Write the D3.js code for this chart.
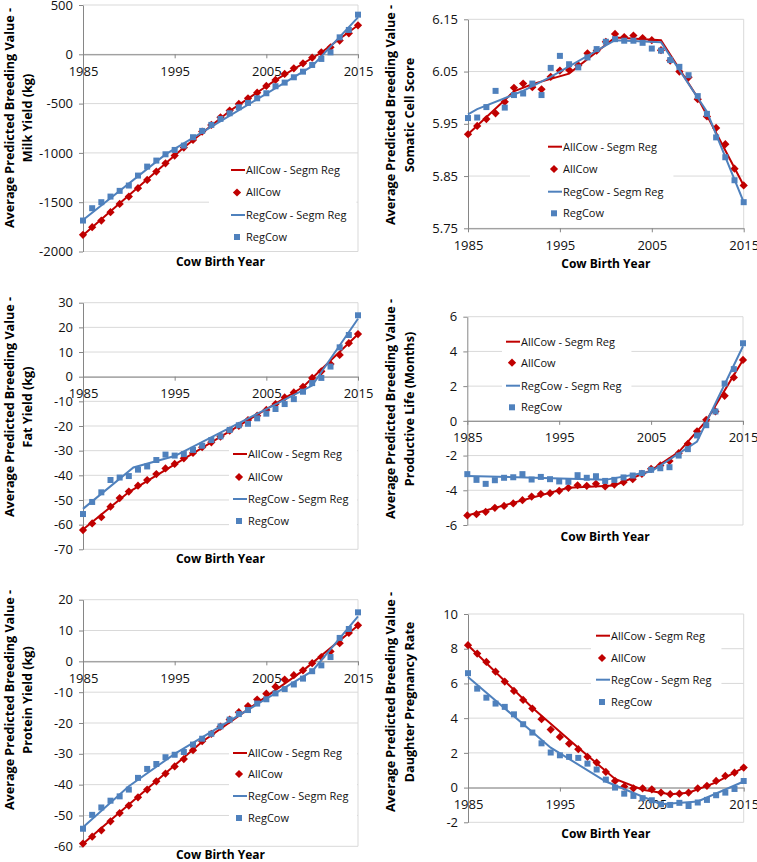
<!DOCTYPE html>
<html>
<head>
<meta charset="utf-8">
<script src="https://cdn.jsdelivr.net/npm/d3@7"></script>
<style>
  body { margin: 0; background: #fff; }
  svg { display: block; font-family: "Open Sans", sans-serif; }
</style>
</head>
<body>
<div id="vis"></div>
<script>
const FRAME_WIDTH = 757;
const FRAME_HEIGHT = 862;

// cow birth years on the x axis
const YEARS = [1985, 1986, 1987, 1988, 1989, 1990, 1991, 1992, 1993, 1994, 1995,
               1996, 1997, 1998, 1999, 2000, 2001, 2002, 2003, 2004, 2005, 2006,
               2007, 2008, 2009, 2010, 2011, 2012, 2013, 2014, 2015];
const X_TICKS = [1985, 1995, 2005, 2015];
const LEGEND_LABELS = ["AllCow - Segm Reg", "AllCow", "RegCow - Segm Reg", "RegCow"];

// Milk yield (kg)
const MILK_TICKS = [-2000, -1500, -1000, -500, 0, 500];
const MILK_ALL = [-1831, -1753, -1686, -1601, -1517, -1443, -1358, -1274, -1189, -1105, -1027,
                  -946, -868, -784, -716, -639, -571, -503, -446, -389, -321, -260,
                  -199, -142, -91, -34, 20, 71, 139, 213, 294];
const MILK_REG = [-1686, -1561, -1500, -1443, -1385, -1331, -1230, -1139, -1078, -1014, -970,
                  -926, -841, -777, -716, -655, -598, -537, -493, -446, -395, -324,
                  -287, -233, -176, -108, -47, 20, 172, 247, 402];
const MILK_ALL_SEG = [[1985, -1835], [1996, -946], [2001, -575], [2006, -262], [2011, 18], [2015, 295]];
const MILK_REG_SEG = [[1985, -1680], [1994, -1015], [2010, -120], [2015, 375]];

// Somatic cell score
const SCS_TICKS = [5.75, 5.85, 5.95, 6.05, 6.15];
const SCS_ALL = [5.930, 5.946, 5.959, 5.970, 5.992, 6.019, 6.027, 6.020, 6.016, 6.040, 6.052,
                 6.053, 6.062, 6.085, 6.090, 6.107, 6.122, 6.116, 6.119, 6.114, 6.110, 6.091,
                 6.071, 6.050, 6.039, 5.997, 5.964, 5.942, 5.911, 5.864, 5.832];
const SCS_REG = [5.961, 5.962, 5.982, 6.013, 5.981, 6.005, 6.008, 6.027, 6.005, 6.057, 6.080,
                 6.064, 6.058, 6.077, 6.093, 6.107, 6.112, 6.109, 6.109, 6.105, 6.094, 6.090,
                 6.072, 6.059, 6.043, 6.003, 5.969, 5.924, 5.886, 5.842, 5.800];
const SCS_ALL_SEG = [[1985, 5.930], [1990, 6.012], [1992, 6.026], [1996, 6.046], [2001, 6.115],
                     [2006, 6.110], [2010, 6.000], [2015, 5.832]];
const SCS_REG_SEG = [[1985, 5.968], [1986, 5.978], [1991, 6.013], [1994, 6.040], [2001, 6.110],
                     [2006, 6.106], [2011, 5.973], [2015, 5.800]];

// Fat yield (kg)
const FAT_TICKS = [-70, -60, -50, -40, -30, -20, -10, 0, 10, 20, 30];
const FAT_ALL = [-62.2, -59.5, -57.0, -52.7, -49.2, -46.6, -44.2, -41.9, -39.5, -37.2, -35.4,
                 -33.1, -30.9, -28.6, -26.6, -24.3, -21.9, -19.9, -17.6, -15.8, -13.5, -11.1,
                 -8.4, -6.4, -4.1, -0.5, 2.2, 5.1, 8.8, 13.6, 17.3];
const FAT_REG = [-55.7, -50.8, -46.9, -41.9, -40.9, -40.3, -37.7, -36.4, -33.8, -31.6, -32.0,
                 -31.4, -29.7, -28.0, -25.7, -24.2, -21.6, -19.7, -19.1, -16.9, -15.0, -13.1,
                 -11.1, -9.1, -6.1, -2.6, -0.5, 4.1, 11.9, 16.9, 24.9];
const FAT_ALL_SEG = [[1985, -62], [1990, -46.8], [2009, -4.2], [2015, 17.2]];
const FAT_REG_SEG = [[1985, -53.6], [1990.5, -36.8], [1995, -32.2], [2010, -3.6], [2015, 23.5]];

// Productive life (months)
const PL_TICKS = [-6, -4, -2, 0, 2, 4, 6];
const PL_ALL = [-5.45, -5.38, -5.24, -5.01, -4.90, -4.76, -4.57, -4.36, -4.22, -4.17, -4.03,
                -3.86, -3.71, -3.74, -3.63, -3.78, -3.67, -3.53, -3.36, -3.05, -2.76, -2.57,
                -2.32, -1.86, -1.32, -0.60, 0.06, 0.54, 1.44, 2.50, 3.51];
const PL_REG = [-3.07, -3.40, -3.63, -3.42, -3.28, -3.25, -3.07, -3.38, -3.23, -3.36, -3.49,
                -3.51, -3.13, -3.28, -3.19, -3.46, -3.40, -3.26, -3.15, -3.01, -2.82, -2.73,
                -2.67, -2.00, -1.63, -0.84, -0.25, 0.54, 2.15, 2.98, 4.47];
const PL_ALL_SEG = [[1985, -5.45], [1996, -3.85], [2001, -3.72], [2005, -2.85], [2008, -1.8],
                    [2011, 0.0], [2015, 3.5]];
const PL_REG_SEG = [[1985, -3.17], [2000, -3.40], [2005, -2.92], [2010, -1.19], [2015, 4.3]];

// Protein yield (kg)
const PROT_TICKS = [-60, -50, -40, -30, -20, -10, 0, 10, 20];
const PROT_ALL = [-59.1, -56.9, -54.8, -51.9, -49.2, -46.8, -44.1, -41.6, -38.9, -36.4, -34.1,
                  -31.7, -28.8, -25.9, -23.5, -21.2, -18.9, -16.5, -14.5, -12.4, -10.5, -8.2,
                  -5.9, -4.5, -2.9, -0.6, 1.4, 3.2, 5.9, 9.2, 11.7];
const PROT_REG = [-54.3, -49.8, -47.4, -45.2, -43.8, -41.6, -37.8, -34.9, -33.3, -31.1, -30.3,
                  -29.4, -27.0, -25.1, -23.5, -21.1, -18.9, -17.1, -15.8, -13.7, -12.3, -10.4,
                  -9.0, -7.5, -5.6, -3.2, -1.3, 1.4, 7.6, 10.5, 15.9];
const PROT_ALL_SEG = [[1985, -59.2], [1998, -26.1], [2009, -3.0], [2015, 11.6]];
const PROT_REG_SEG = [[1985, -53.8], [1990, -40.5], [1995, -30.0], [2010, -3.2], [2015, 14.6]];

// Daughter pregnancy rate
const DPR_TICKS = [-2, 0, 2, 4, 6, 8, 10];
const DPR_ALL = [8.20, 7.72, 7.24, 6.68, 6.11, 5.57, 5.05, 4.55, 3.94, 3.34, 2.92,
                 2.53, 2.21, 1.77, 1.44, 0.90, 0.38, 0.06, -0.04, -0.04, -0.10, -0.29,
                 -0.38, -0.35, -0.29, -0.04, 0.10, 0.38, 0.67, 0.86, 1.15];
const DPR_REG = [6.59, 5.70, 5.18, 4.84, 4.65, 4.22, 3.65, 3.17, 2.55, 2.02, 1.86,
                 1.77, 1.71, 1.38, 1.04, 0.46, 0.00, -0.35, -0.48, -0.61, -0.73, -0.96,
                 -1.00, -0.88, -1.06, -0.86, -0.71, -0.44, -0.29, -0.08, 0.38];
const DPR_ALL_SEG = [[1985, 8.2], [1992, 4.6], [1997, 2.3], [2001, 0.5], [2004, -0.12],
                     [2007, -0.38], [2009, -0.3], [2012, 0.3], [2015, 1.15]];
const DPR_REG_SEG = [[1985, 6.37], [1994, 2.3], [2000, 0.35], [2006, -0.96], [2010, -0.8], [2015, 0.35]];

const RED = "#c00000";
const BLUE = "#4f81bd";
const GRID = "#d9d9d9";
const AXIS = "#868686";

// one entry per small chart; layout numbers are pixels
const PANELS = [
  {box: [83, 358, 5, 251.5], ticks: MILK_TICKS, dec: 0, cross: 0,
   all: MILK_ALL, reg: MILK_REG, allSeg: MILK_ALL_SEG, regSeg: MILK_REG_SEG,
   title: ["Average Predicted Breeding Value -", "Milk Yield (kg)"], titleX: [10, 28], titleY: 118, xTitleY: 262,
   legX: 231, legRows: [170, 192.5, 215, 237], legPad: 22},
  {box: [468, 743.7, 19.3, 228.3], ticks: SCS_TICKS, dec: 2, cross: 5.75,
   all: SCS_ALL, reg: SCS_REG, allSeg: SCS_ALL_SEG, regSeg: SCS_REG_SEG,
   title: ["Average Predicted Breeding Value -", "Somatic Cell Score"], titleX: [391, 410], titleY: 115, xTitleY: 264,
   legX: 548, legRows: [146.7, 169, 191.7, 213.3], legPad: 18},
  {box: [83, 358, 302.7, 549.3], ticks: FAT_TICKS, dec: 0, cross: 0,
   all: FAT_ALL, reg: FAT_REG, allSeg: FAT_ALL_SEG, regSeg: FAT_REG_SEG,
   title: ["Average Predicted Breeding Value -", "Fat Yield (kg)"], titleX: [10, 28], titleY: 407, xTitleY: 559,
   legX: 233, legRows: [454, 477, 499, 521], legPad: 4},
  {box: [467.3, 743, 316.7, 525], ticks: PL_TICKS, dec: 0, cross: 0,
   all: PL_ALL, reg: PL_REG, allSeg: PL_ALL_SEG, regSeg: PL_REG_SEG,
   title: ["Average Predicted Breeding Value -", "Productive Life (Months)"], titleX: [391, 410], titleY: 409, xTitleY: 537,
   legX: 506, legRows: [341.7, 362.7, 385.7, 407.3], legPad: 4},
  {box: [83, 358, 599.7, 846.3], ticks: PROT_TICKS, dec: 0, cross: 0,
   all: PROT_ALL, reg: PROT_REG, allSeg: PROT_ALL_SEG, regSeg: PROT_REG_SEG,
   title: ["Average Predicted Breeding Value -", "Protein Yield (kg)"], titleX: [10, 28], titleY: 700, xTitleY: 854.5,
   legX: 233, legRows: [753, 774, 796, 818], legPad: 4},
  {box: [468, 743.7, 614, 822.3], ticks: DPR_TICKS, dec: 0, cross: 0,
   all: DPR_ALL, reg: DPR_REG, allSeg: DPR_ALL_SEG, regSeg: DPR_REG_SEG,
   title: ["Average Predicted Breeding Value -", "Daughter Pregnancy Rate"], titleX: [391, 410], titleY: 702, xTitleY: 834,
   legX: 596, legRows: [635.7, 658, 679.7, 702], legPad: 5}
];

const FRAME = d3.select("#vis")
  .append("svg")
    .attr("width", FRAME_WIDTH)
    .attr("height", FRAME_HEIGHT);

const diamond = d3.symbol(d3.symbolSquare).size(34);
const square = d3.symbol(d3.symbolSquare).size(36);

function drawPanel(p) {
  const [left, right, top, bottom] = p.box;
  const X_SCALE = d3.scaleLinear().domain([1985, 2015]).range([left, right]);
  const Y_SCALE = d3.scaleLinear().domain([p.ticks[0], p.ticks[p.ticks.length - 1]]).range([bottom, top]);
  const g = FRAME.append("g");

  // horizontal gridlines + right edge
  g.selectAll(".grid")
    .data(p.ticks)
    .enter()
    .append("line")
      .attr("x1", left).attr("x2", right)
      .attr("y1", d => Y_SCALE(d)).attr("y2", d => Y_SCALE(d))
      .attr("stroke", GRID);
  g.append("line")
    .attr("x1", right).attr("x2", right)
    .attr("y1", top).attr("y2", bottom)
    .attr("stroke", GRID);

  // y axis
  const yAxis = g.append("g")
    .attr("transform", "translate(" + left + ",0)")
    .call(d3.axisLeft(Y_SCALE).tickValues(p.ticks).tickSize(4).tickSizeOuter(0).tickPadding(6)
            .tickFormat(d => d.toFixed(p.dec)));

  // x axis where it crosses the value axis
  const xAxis = g.append("g")
    .attr("transform", "translate(0," + Y_SCALE(p.cross) + ")")
    .call(d3.axisBottom(X_SCALE).tickValues(X_TICKS).tickSize(4).tickSizeOuter(0).tickPadding(8)
            .tickFormat(d => String(d)));

  [yAxis, xAxis].forEach(a => {
    a.selectAll("path, line").attr("stroke", AXIS);
    a.selectAll("text").attr("font-size", "13px").attr("fill", "#111")
      .attr("font-family", "Open Sans");
  });

  // axis titles
  g.append("text")
    .attr("x", (left + right) / 2)
    .attr("y", p.xTitleY)
    .attr("dy", "0.35em")
    .attr("text-anchor", "middle")
    .attr("font-size", "12px")
    .attr("font-weight", "bold")
    .text("Cow Birth Year");

  p.title.forEach((t, i) => {
    g.append("text")
      .attr("transform", "translate(" + p.titleX[i] + "," + p.titleY + ") rotate(-90)")
      .attr("dy", "0.35em")
      .attr("text-anchor", "middle")
      .attr("font-size", "12.6px")
      .attr("font-weight", "bold")
      .text(t);
  });

  const line = d3.line().x(d => X_SCALE(d[0])).y(d => Y_SCALE(d[1]));

  // AllCow
  g.append("path").datum(p.allSeg)
    .attr("d", line).attr("fill", "none")
    .attr("stroke", RED).attr("stroke-width", 2);
  g.selectAll(".allpt")
    .data(p.all)
    .enter()
    .append("path")
      .attr("d", diamond)
      .attr("transform", (d, i) => "translate(" + X_SCALE(YEARS[i]) + "," + Y_SCALE(d) + ") rotate(45)")
      .attr("fill", RED);

  // RegCow
  g.append("path").datum(p.regSeg)
    .attr("d", line).attr("fill", "none")
    .attr("stroke", BLUE).attr("stroke-width", 2);
  g.selectAll(".regpt")
    .data(p.reg)
    .enter()
    .append("path")
      .attr("d", square)
      .attr("transform", (d, i) => "translate(" + X_SCALE(YEARS[i]) + "," + Y_SCALE(d) + ")")
      .attr("fill", BLUE);

  // legend
  const leg = g.append("g");
  const bg = leg.append("rect").attr("fill", "#fff");
  let maxW = 0;
  LEGEND_LABELS.forEach((lab, i) => {
    const yy = p.legRows[i];
    const col = i < 2 ? RED : BLUE;
    if (i % 2 == 0) {
      leg.append("line")
        .attr("x1", p.legX).attr("x2", p.legX + 14)
        .attr("y1", yy).attr("y2", yy)
        .attr("stroke", col).attr("stroke-width", 2);
    } else {
      leg.append("path")
        .attr("d", i == 1 ? diamond : square)
        .attr("transform", "translate(" + (p.legX + 6) + "," + yy + ")" + (i == 1 ? " rotate(45)" : ""))
        .attr("fill", col);
    }
    const t = leg.append("text")
      .attr("x", p.legX + 15)
      .attr("y", yy)
      .attr("dy", "0.35em")
      .attr("font-size", "11px")
      .attr("fill", "#111")
      .text(lab);
    maxW = Math.max(maxW, t.node().getComputedTextLength());
  });
  const bx = p.legX - p.legPad;
  bg.attr("x", bx)
    .attr("y", p.legRows[0] - 12)
    .attr("width", Math.min(p.legX + 15 + maxW + 10, right - 1) - bx)
    .attr("height", p.legRows[3] - p.legRows[0] + 24);
}

PANELS.forEach(drawPanel);
</script>
</body>
</html>
